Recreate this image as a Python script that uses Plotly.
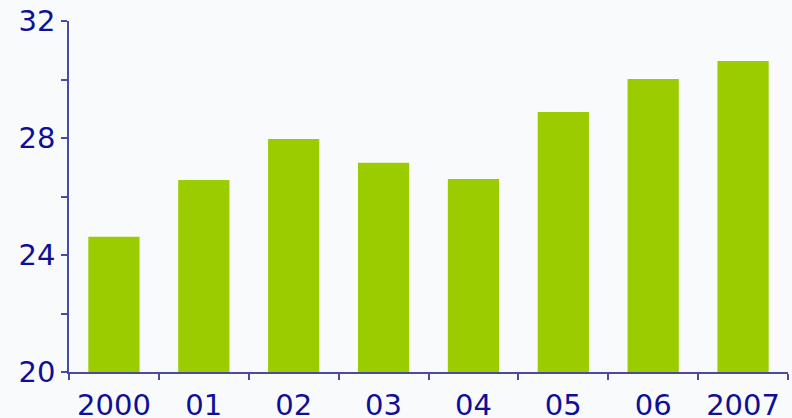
import plotly.graph_objects as go

years = ["2000", "01", "02", "03", "04", "05", "06", "2007"]
values = [24.62, 26.56, 27.97, 27.15, 26.6, 28.89, 30.02, 30.63]
ytick_vals = [20, 22, 24, 26, 28, 30, 32]
ytick_text = ["20", "", "24", "", "28", "", "32"]

text_color = "#0F0F96"
axis_color = "#4A4AA0"
bg = "#F9FAFC"

fig = go.Figure(go.Bar(x=years, y=values, marker=dict(color="#9BCC00", line=dict(width=0))))

fig.update_layout(
    width=792, height=418,
    margin=dict(l=69, r=4, t=21, b=46, autoexpand=False),
    paper_bgcolor=bg, plot_bgcolor=bg,
    bargap=0.43,
    showlegend=False,
    font=dict(family="DejaVu Sans", size=29, color=text_color),
)
fig.update_xaxes(
    type="category", automargin=False,
    showgrid=False, zeroline=False,
    showline=True, linecolor=axis_color, linewidth=1.5,
    ticks="outside", ticklen=6, tickcolor=axis_color, tickwidth=1.5,
    tickson="boundaries", ticklabelstandoff=6,
    tickfont=dict(size=29, color=text_color),
)
fig.update_yaxes(
    range=[20, 32], automargin=False,
    showgrid=False, zeroline=False,
    showline=True, linecolor=axis_color, linewidth=1.5,
    ticks="outside", ticklen=6, tickcolor=axis_color, tickwidth=1.5,
    tickvals=ytick_vals, ticktext=ytick_text,
    tickfont=dict(size=29, color=text_color),
)

fig.write_html(
    "out.html",
    config={"displayModeBar": False},
    post_script="document.body.style.margin='0';document.body.style.background='%s';" % bg,
)
